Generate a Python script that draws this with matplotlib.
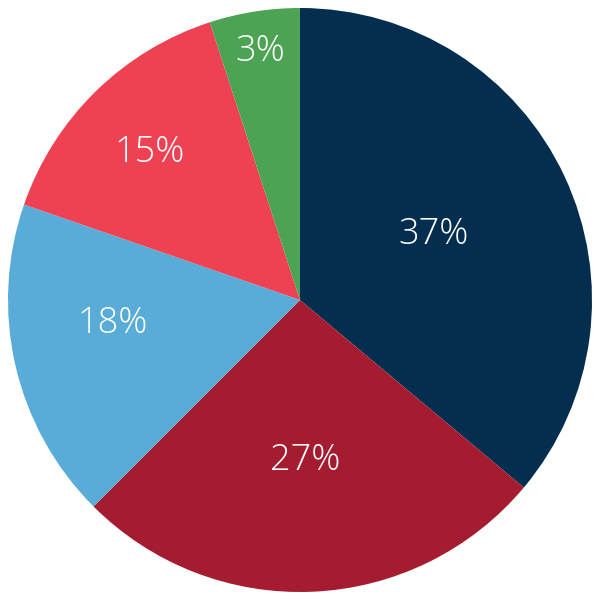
import numpy as np
import matplotlib
matplotlib.use("Agg")
from matplotlib import pyplot as plt

shares = [36.1, 26.4, 17.8, 14.7, 5.0]
labels = ["37%", "27%", "18%", "15%", "3%"]
colors = ["#032e4f", "#a51c30", "#59acd8", "#ee4254", "#4ca353"]

# label placement: distance from centre (fraction of radius) and angle shift
label_r = [0.51, 0.55, 0.645, 0.72, 0.86]
label_shift = [1.0, -0.6, -5.7, 1.0, 0.0]

plt.rcParams['font.family'] = ['Open Sans', 'DejaVu Sans']

fig = plt.figure(figsize=(6, 6), dpi=100)
ax = fig.add_axes([0, 0, 1, 1])
wedges, _ = ax.pie(shares, colors=colors, startangle=90, counterclock=False,
                   radius=1.0, wedgeprops={'linewidth': 0})

for w, txt, r, d in zip(wedges, labels, label_r, label_shift):
    mid = np.deg2rad((w.theta1 + w.theta2) / 2 + d)
    ax.text(r * np.cos(mid), r * np.sin(mid), txt, color='white',
            fontsize=26, fontweight=300, ha='center', va='center')

lim = 300 / 292
ax.set_xlim(-lim, lim)
ax.set_ylim(-lim, lim)
ax.set_aspect('equal')
ax.axis('off')

plt.savefig('out.png', dpi=100, facecolor='white')
